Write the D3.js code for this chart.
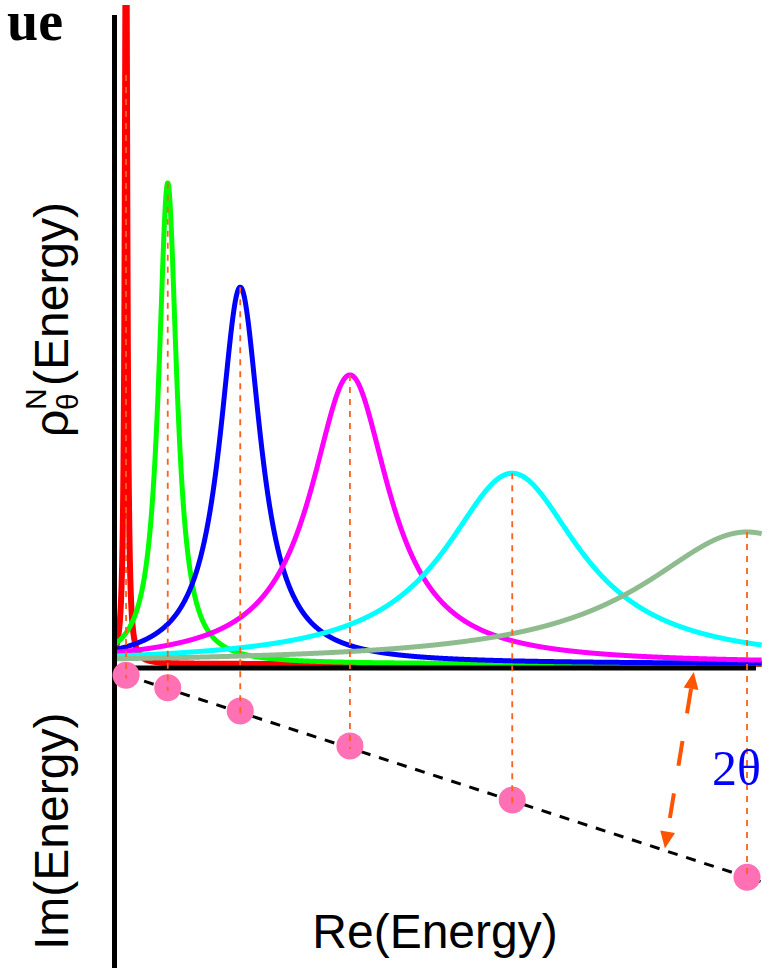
<!DOCTYPE html>
<html>
<head>
<meta charset="utf-8">
<script src="https://cdn.jsdelivr.net/npm/d3@7"></script>
<style>
  body { margin: 0; background: #fff; }
  svg { display: block; }
</style>
</head>
<body>
<div id="chart"></div>
<script>
// Complex-scaled resonances: position on the real axis, imaginary part,
// Lorentzian half width and peak height of the scaled density
const curveColors = ["#ff0000", "#00ff00", "#0000ff", "#ff00ff", "#00ffff", "#8fbc8f"];
const reEnergy   = [0.18, 0.83, 1.96, 3.67, 6.20, 9.86];
const imEnergy   = [-0.11, -0.30, -0.65, -1.18, -2.00, -3.17];
const halfWidth  = [0.023, 0.171, 0.389, 0.748, 1.293, 2.0];
const peakHeight = [12.1, 7.29, 5.71, 4.38, 2.89, 2.0];

const W = 769, H = 968;

const svg = d3.select("#chart")
    .append("svg")
    .attr("width", W)
    .attr("height", H);

// Re axis shared by both halves, density above, Im below
const x = d3.scaleLinear().domain([0, 10]).range([114.5, 756]);
const y = d3.scaleLinear().domain([0, 10]).range([664, 4]);
const im = d3.scaleLinear().domain([0, -4]).range([668, 932]);

svg.append("defs").append("clipPath")
    .attr("id", "plotClip")
    .append("rect")
    .attr("x", x(0))
    .attr("y", 5)
    .attr("width", W - x(0))
    .attr("height", 665);

const lorentz = (e, i) => peakHeight[i] / (1 + Math.pow((e - reEnergy[i]) / halfWidth[i], 2));

const samples = d3.range(0, 10.09, 0.004);

const line = d3.line()
    .x(d => x(d[0]))
    .y(d => y(d[1]));

// density curves
const curves = svg.append("g").attr("clip-path", "url(#plotClip)");
reEnergy.forEach((e, i) => {
    curves.append("path")
        .datum(samples.map(s => [s, lorentz(s, i)]))
        .attr("d", line)
        .attr("fill", "none")
        .attr("stroke", curveColors[i])
        .attr("stroke-width", i === 0 ? 6 : 5)
        .attr("stroke-linejoin", "round");
});

// axes
svg.append("line")
    .attr("x1", x(0)).attr("x2", x(0))
    .attr("y1", 15).attr("y2", H)
    .attr("stroke", "#000")
    .attr("stroke-width", 5);

svg.append("line")
    .attr("x1", x(0) - 2).attr("x2", x(10))
    .attr("y1", im(0)).attr("y2", im(0))
    .attr("stroke", "#000")
    .attr("stroke-width", 5);

// rotated line through the poles
const n = reEnergy.length;
const slope = (imEnergy[n - 1] - imEnergy[0]) / (reEnergy[n - 1] - reEnergy[0]);
const onRay = e => imEnergy[0] + slope * (e - reEnergy[0]);
const rayEnd = 10.07;

svg.append("line")
    .attr("x1", x(reEnergy[0])).attr("y1", im(imEnergy[0]))
    .attr("x2", x(rayEnd)).attr("y2", im(onRay(rayEnd)))
    .attr("stroke", "#000")
    .attr("stroke-width", 3)
    .attr("stroke-dasharray", "10,9");

// poles
svg.append("g").selectAll("circle")
    .data(reEnergy)
    .join("circle")
    .attr("cx", d => x(d))
    .attr("cy", (d, i) => im(imEnergy[i]))
    .attr("r", 13.5)
    .attr("fill", "#ff70b4");

// drop lines from each peak to its pole
svg.append("g").selectAll("line")
    .data(reEnergy)
    .join("line")
    .attr("x1", d => x(d)).attr("x2", d => x(d))
    .attr("y1", (d, i) => Math.max(y(peakHeight[i]), 75))
    .attr("y2", (d, i) => im(imEnergy[i]) + 3)
    .attr("stroke", "#ff5f1f")
    .attr("stroke-width", 1.8)
    .attr("stroke-dasharray", "6,6");

// double arrow for the rotation angle
const arrowTop = [x(9.03), im(-0.06)];
const arrowBot = [x(8.58), im(onRay(8.58)) - 2];
const orange = "#ff5500";
const headLen = 17, headHalf = 7.5;

function head(tip, from) {
    const dx = from[0] - tip[0], dy = from[1] - tip[1];
    const len = Math.hypot(dx, dy);
    const ux = dx / len, uy = dy / len;
    const bx = tip[0] + ux * headLen, by = tip[1] + uy * headLen;
    return {
        base: [bx, by],
        pts: [tip, [bx - uy * headHalf, by + ux * headHalf], [bx + uy * headHalf, by - ux * headHalf]]
    };
}

const h1 = head(arrowTop, arrowBot);
const h2 = head(arrowBot, arrowTop);

svg.append("line")
    .attr("x1", h1.base[0]).attr("y1", h1.base[1])
    .attr("x2", h2.base[0]).attr("y2", h2.base[1])
    .attr("stroke", orange)
    .attr("stroke-width", 4)
    .attr("stroke-dasharray", "25,28");

svg.selectAll(".arrowhead")
    .data([h1.pts, h2.pts])
    .join("path")
    .attr("class", "arrowhead")
    .attr("d", d => "M" + d.join("L") + "Z")
    .attr("fill", orange);

svg.append("text")
    .attr("x", 712)
    .attr("y", 785)
    .attr("font-family", "Liberation Serif, Times New Roman, serif")
    .attr("font-size", 50)
    .attr("fill", "#0000ff")
    .text("2θ");

// labels
const sans = "Liberation Sans, Arial, Helvetica, sans-serif";

svg.append("text")
    .attr("x", 63)
    .attr("y", 40)
    .attr("text-anchor", "end")
    .attr("font-family", "Liberation Serif, Times New Roman, serif")
    .attr("font-weight", "bold")
    .attr("font-size", 56)
    .text("ue");

svg.append("text")
    .attr("x", 435)
    .attr("y", 948)
    .attr("text-anchor", "middle")
    .attr("font-family", sans)
    .attr("font-size", 48)
    .text("Re(Energy)");

svg.append("text")
    .attr("transform", "translate(68,950) rotate(-90)")
    .attr("font-family", sans)
    .attr("font-size", 48)
    .text("Im(Energy)");

const rho = svg.append("g")
    .attr("transform", "translate(68,437) rotate(-90)")
    .attr("font-family", sans);
rho.append("text").attr("x", 0).attr("y", 0).attr("font-size", 48).text("ρ");
rho.append("text").attr("x", 27).attr("y", -22).attr("font-size", 30).text("N");
rho.append("text").attr("x", 27).attr("y", 10).attr("font-size", 30).text("θ");
rho.append("text").attr("x", 51).attr("y", 0).attr("font-size", 48).text("(Energy)");
</script>
</body>
</html>
